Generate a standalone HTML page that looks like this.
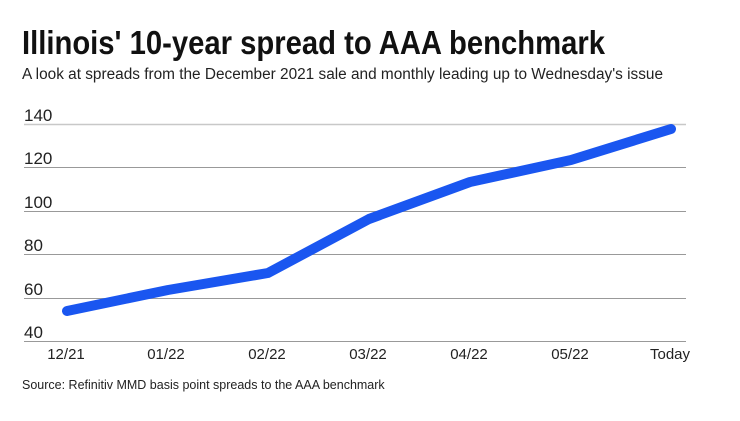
<!DOCTYPE html>
<html><head><meta charset="utf-8"><style>
body{margin:0;background:#fff;width:740px;height:416px;overflow:hidden;font-family:"Liberation Sans",sans-serif;}
</style></head><body>
<svg width="740" height="416" xmlns="http://www.w3.org/2000/svg" font-family="Liberation Sans, sans-serif">
<text x="22" y="54" font-size="33" font-weight="bold" fill="#111" textLength="583" lengthAdjust="spacingAndGlyphs">Illinois' 10-year spread to AAA benchmark</text>
<text x="22" y="79" font-size="15.5" fill="#222" textLength="641" lengthAdjust="spacingAndGlyphs">A look at spreads from the December 2021 sale and monthly leading up to Wednesday's issue</text>
<g stroke="#999" stroke-width="1">
<line x1="24" y1="124.5" x2="686" y2="124.5" stroke="#c8c8c8" stroke-width="1.5"/>
<line x1="24" y1="167.5" x2="686" y2="167.5"/>
<line x1="24" y1="211.5" x2="686" y2="211.5"/>
<line x1="24" y1="254.5" x2="686" y2="254.5"/>
<line x1="24" y1="298.5" x2="686" y2="298.5"/>
<line x1="24" y1="341.5" x2="686" y2="341.5"/>
</g>
<g font-size="17" fill="#222">
<text x="24" y="121">140</text>
<text x="24" y="164">120</text>
<text x="24" y="208">100</text>
<text x="24" y="251">80</text>
<text x="24" y="295">60</text>
<text x="24" y="338">40</text>
</g>
<g font-size="15" fill="#222" text-anchor="middle">
<text x="66" y="359">12/21</text>
<text x="166" y="359">01/22</text>
<text x="267" y="359">02/22</text>
<text x="368" y="359">03/22</text>
<text x="469" y="359">04/22</text>
<text x="570" y="359">05/22</text>
<text x="670" y="359">Today</text>
</g>
<polyline points="67,311 168,290 268,273 369,219 470,182 571,160 671,129" fill="none" stroke="#1a56f0" stroke-width="10" stroke-linejoin="round" stroke-linecap="round"/>
<text x="22" y="389" font-size="12.5" fill="#222">Source: Refinitiv MMD basis point spreads to the AAA benchmark</text>
</svg>
</body></html>
